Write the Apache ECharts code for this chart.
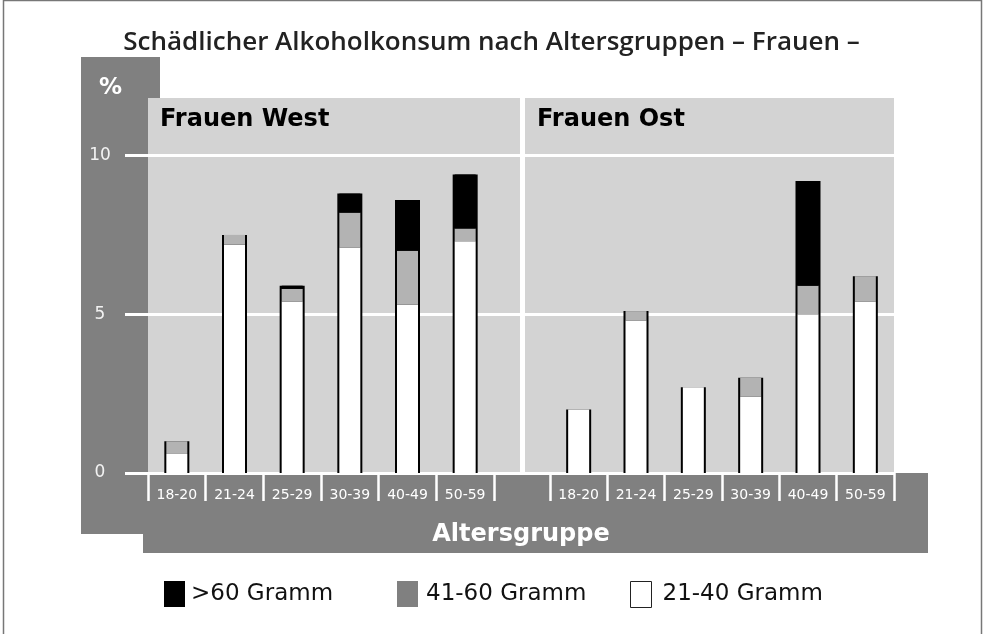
<!DOCTYPE html>
<html>
<head>
<meta charset="utf-8">
<title>Schädlicher Alkoholkonsum nach Altersgruppen</title>
<script src="https://cdn.jsdelivr.net/npm/echarts@6/dist/echarts.min.js"></script>
<style>
  html, body { margin: 0; padding: 0; background: #fff; }
  #main { width: 983px; height: 634px; }
</style>
</head>
<body>
<div id="main"></div>
<script>
// Altersgruppen (x-Achse, je Panel)
var categories = ['18-20', '21-24', '25-29', '30-39', '40-49', '50-59'];

// Frauen West, Anteil in %
var west2140 = [0.6, 7.2, 5.4, 7.1, 5.3, 7.3];
var west4160 = [0.4, 0.3, 0.4, 1.1, 1.7, 0.4];
var west60 = [0, 0, 0.1, 0.6, 1.6, 1.7];

// Frauen Ost, Anteil in %
var east2140 = [2.0, 4.8, 2.7, 2.4, 5.0, 5.4];
var east4160 = [0, 0.3, 0, 0.6, 0.9, 0.8];
var east60 = [0, 0, 0, 0, 3.3, 0];

// y-Achse
var yMin = 0;
var yMax = 10;
var yStep = 5;

var names = ['>60 Gramm', '41-60 Gramm', '21-40 Gramm'];

var chart = echarts.init(document.getElementById('main'), null, { renderer: 'canvas' });

function sum3(a, b, c) {
  return a.map(function (v, i) { return +(v + b[i] + c[i]).toFixed(2); });
}

var GRID_TOP = 155.5;
var GRID_H = 317.5;
var FONT = '"DejaVu Sans", sans-serif';

// outline bar behind each stack -> black side edges
function outline(name, xi, yi, data) {
  return {
    name: 'outline-' + name, type: 'bar', xAxisIndex: xi, yAxisIndex: yi,
    data: data, barWidth: 25, z: 1, silent: true,
    itemStyle: { color: '#000' }
  };
}
function seg(name, xi, yi, stack, data, color) {
  return {
    name: name, type: 'bar', xAxisIndex: xi, yAxisIndex: yi, stack: stack,
    data: data, barWidth: 21, z: 3,
    itemStyle: { color: color }
  };
}
function catAxis(gi) {
  return {
    type: 'category', gridIndex: gi, data: categories,
    axisLine: { show: false },
    axisTick: { show: true, interval: 0, length: 28, lineStyle: { color: '#fff', width: 2.5 } },
    axisLabel: { interval: 0, color: '#fff', fontSize: 14, fontFamily: FONT, margin: 15 },
    splitLine: { show: false }
  };
}
function hiddenCat(gi) {
  return { type: 'category', gridIndex: gi, data: categories, show: false };
}
function hiddenVal(gi) {
  return { type: 'value', gridIndex: gi, min: yMin, max: yMax, interval: yStep, show: false, splitLine: { show: false } };
}
function legendAt(name, left, gap, itemStyle) {
  return {
    data: [{ name: name, itemStyle: itemStyle }],
    left: left, top: 581, padding: 0,
    icon: 'rect', itemWidth: 21, itemHeight: 26,
    selectedMode: false,
    textStyle: { fontSize: 23, color: '#111', fontFamily: FONT, padding: [0, 0, 0, gap] }
  };
}

var option = {
  backgroundColor: '#fff',
  animation: false,
  title: [
    {
      text: 'Schädlicher Alkoholkonsum nach Altersgruppen – Frauen –',
      left: 'center', top: 30, padding: 0,
      textStyle: { fontFamily: '"Open Sans", sans-serif', fontWeight: 600, fontSize: 26, color: '#222' }
    },
    {
      text: 'Frauen West', left: 160, top: 108, padding: 0,
      textStyle: { fontFamily: FONT, fontWeight: 'bold', fontSize: 24, color: '#000' }
    },
    {
      text: 'Frauen Ost', left: 537, top: 108, padding: 0,
      textStyle: { fontFamily: FONT, fontWeight: 'bold', fontSize: 24, color: '#000' }
    },
    {
      text: '%', left: 99, top: 77, padding: 0,
      textStyle: { fontFamily: FONT, fontWeight: 'bold', fontSize: 23, color: '#fff' }
    }
  ],
  legend: [
    legendAt(names[0], 164, 1, { color: '#000' }),
    legendAt(names[1], 397, 3, { color: '#808080' }),
    legendAt(names[2], 630, 6, { color: '#fff', borderColor: '#222', borderWidth: 1 })
  ],
  graphic: {
    elements: [
      // frame
      { type: 'rect', z: -100, shape: { x: 3.5, y: 0.5, width: 978, height: 640 },
        style: { fill: null, stroke: '#777', lineWidth: 1.5 } },
      // dark grey column + band
      { type: 'rect', z: -90, shape: { x: 81, y: 57, width: 79, height: 477 }, style: { fill: '#808080' } },
      { type: 'rect', z: -90, shape: { x: 143, y: 473, width: 785, height: 80 }, style: { fill: '#808080' } },
      // light grey panels
      { type: 'rect', z: -80, shape: { x: 148, y: 98, width: 372, height: 375 }, style: { fill: '#d3d3d3' } },
      { type: 'rect', z: -80, shape: { x: 525, y: 98, width: 369, height: 375 }, style: { fill: '#d3d3d3' } }
    ]
  },
  grid: [
    { left: 148, top: GRID_TOP, width: 746, height: GRID_H, containLabel: false },
    { left: 148, top: GRID_TOP, width: 346, height: GRID_H, containLabel: false },
    { left: 550, top: GRID_TOP, width: 344, height: GRID_H, containLabel: false }
  ],
  xAxis: [
    {
      type: 'category', gridIndex: 0, data: [''],
      axisLine: { show: false }, axisTick: { show: false }, axisLabel: { show: false },
      name: 'Altersgruppe', nameLocation: 'middle', nameGap: 50,
      nameTextStyle: { color: '#fff', fontFamily: FONT, fontWeight: 'bold', fontSize: 24 }
    },
    catAxis(1),
    hiddenCat(1),
    catAxis(2),
    hiddenCat(2)
  ],
  yAxis: [
    {
      type: 'value', gridIndex: 0, min: yMin, max: yMax, interval: yStep,
      axisLine: { show: false },
      axisTick: { show: true, length: 23, lineStyle: { color: '#fff', width: 3 } },
      axisLabel: { color: '#f2f2f2', fontSize: 17, fontFamily: FONT, align: 'center', margin: 48 },
      splitLine: { show: true, lineStyle: { color: '#fff', width: 3 } }
    },
    hiddenVal(1),
    hiddenVal(2)
  ],
  series: [
    outline('west', 2, 1, sum3(west2140, west4160, west60)),
    seg(names[2], 1, 1, 'west', west2140, '#fff'),
    seg(names[1], 1, 1, 'west', west4160, '#b3b3b3'),
    seg(names[0], 1, 1, 'west', west60, '#000'),
    outline('east', 4, 2, sum3(east2140, east4160, east60)),
    seg(names[2], 3, 2, 'east', east2140, '#fff'),
    seg(names[1], 3, 2, 'east', east4160, '#b3b3b3'),
    seg(names[0], 3, 2, 'east', east60, '#000')
  ]
};

chart.setOption(option);
</script>
</body>
</html>
